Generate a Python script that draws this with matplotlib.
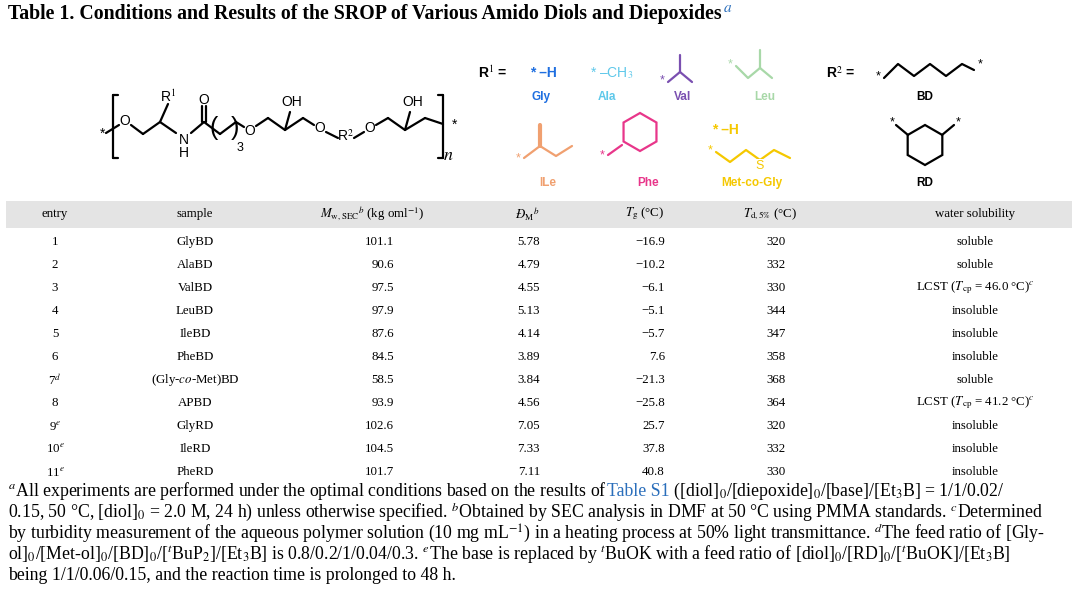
import matplotlib
matplotlib.use("Agg")
import matplotlib.pyplot as plt
from matplotlib.patches import Rectangle, RegularPolygon
import numpy as np

entries = ["1","2","3","4","5","6","7$^{d}$","8","9$^{e}$","10$^{e}$","11$^{e}$"]
samples = ["GlyBD","AlaBD","ValBD","LeuBD","IleBD","PheBD","(Gly-$co$-Met)BD","APBD","GlyRD","IleRD","PheRD"]
mw = [101.1,90.6,97.5,97.9,87.6,84.5,58.5,93.9,102.6,104.5,101.7]
dm = [5.78,4.79,4.55,5.13,4.14,3.89,3.84,4.56,7.05,7.33,7.11]
tg = [-16.9,-10.2,-6.1,-5.1,-5.7,7.6,-21.3,-25.8,25.7,37.8,40.8]
td = [320,332,330,344,347,358,368,364,320,332,330]
sol = ["soluble","soluble","LCST ($T_{\\rm cp}$ = 46.0 °C)$^{c}$","insoluble","insoluble","insoluble",
       "soluble","LCST ($T_{\\rm cp}$ = 41.2 °C)$^{c}$","insoluble","insoluble","insoluble"]

plt.rcParams['mathtext.fontset'] = 'stix'
SERIF = ['Liberation Serif', 'DejaVu Serif']
SANS = ['Liberation Sans', 'DejaVu Sans']
fig = plt.figure(figsize=(10.8, 5.98), dpi=100)
ax = fig.add_axes([0, 0, 1, 1])
ax.set_xlim(0, 1080); ax.set_ylim(598, 0); ax.axis('off')
FN = 9.3
BLUE = '#2a6ebb'

def T(x, y, s, **kw):
    kw.setdefault('family', SERIF); kw.setdefault('fontsize', FN)
    kw.setdefault('va', 'center')
    return ax.text(x, y, s, **kw)

fig.canvas.draw()
r = fig.canvas.get_renderer()
tt = ax.text(8, 14, "Table 1. Conditions and Results of the SROP of Various Amido Diols and Diepoxides", family=SERIF,
        fontsize=14.3, weight='bold', va='center')
tx = 8 + tt.get_window_extent(r).width
ax.text(tx + 1, 9, "$a$", family=SERIF, fontsize=11, color=BLUE, va='center')

# ---- polymer structure ----
def L(xs, ys, c='k', lw=1.6):
    ax.plot(xs, ys, color=c, lw=lw, solid_capstyle='round')
L([113,113],[95,158]); L([113,118],[95,95]); L([113,118],[158,158])
L([443,443],[95,158]); L([438,443],[95,95]); L([438,443],[158,158])
T(100,134,"*",family=SANS,fontsize=10)
T(125,121,"O",family=SANS,fontsize=10,ha='center')
L([106,119],[133,125]); L([131,143],[125,134]); L([143,160],[134,122])
L([160,168],[122,104]); T(168,97,"R$^1$",family=SANS,fontsize=10,ha='center')
L([160,176],[122,133]); T(184,140,"N",family=SANS,fontsize=10,ha='center'); T(184,153,"H",family=SANS,fontsize=10,ha='center')
L([191,204],[133,122]); L([202,202],[122,106]); L([206,206],[122,106]); T(204,100,"O",family=SANS,fontsize=10,ha='center')
L([204,220],[122,134]); T(214,128,"(",family=SANS,fontsize=18,ha='center'); T(235,128,")",family=SANS,fontsize=18,ha='center')
L([220,236],[134,122]); T(240,148,"3",family=SANS,fontsize=9,ha='center')
L([236,244],[122,127]); T(250,131,"O",family=SANS,fontsize=10,ha='center')
L([256,268],[126,118]); L([268,285],[118,130]); L([285,290],[130,112]); T(292,102,"OH",family=SANS,fontsize=10,ha='center')
L([285,303],[130,118]); L([303,314],[118,125]); T(320,128,"O",family=SANS,fontsize=10,ha='center')
L([326,338],[132,138]); T(345,136,"R$^2$",family=SANS,fontsize=10,ha='center'); L([354,364],[138,132])
T(370,128,"O",family=SANS,fontsize=10,ha='center'); L([376,388],[125,118]); L([388,405],[118,130])
L([405,410],[130,112]); T(413,102,"OH",family=SANS,fontsize=10,ha='center'); L([405,425],[130,118]); L([425,443],[118,124])
T(455,125,"*",family=SANS,fontsize=10,ha='center'); T(448,156,"$n$",fontsize=13,ha='center')

# ---- R1 ----
CG, CA, CV, CL, CI, CP, CM = '#1f6fe0', '#5ec8ea', '#7a4fb0', '#a8d8a8', '#f0a070', '#e8368a', '#f5c800'
def lab(x, y, s, c, **kw): T(x, y, s, family=SANS, fontsize=8.5, weight='bold', color=c, ha='center', **kw)
T(478,73,"R$^1$ =",family=SANS,fontsize=10,weight='bold')
T(530,73,"* –H",family=SANS,fontsize=10,color=CG,weight='bold'); lab(541,97,"Gly",CG)
T(590,73,"* –CH$_3$",family=SANS,fontsize=10,color=CA); lab(607,97,"Ala",CA)
T(660,80,"*",family=SANS,fontsize=9,color=CV); L([668,680,692],[82,72,82],CV); L([680,680],[72,55],CV); lab(683,97,"Val",CV)
T(728,64,"*",family=SANS,fontsize=9,color=CL); L([736,748,760,772],[66,78,68,78],CL); L([760,760],[68,50],CL); lab(765,97,"Leu",CL)
T(826,73,"R$^2$ =",family=SANS,fontsize=10,weight='bold')
T(876,76,"*",family=SANS,fontsize=9); L([884,898,914,930,946,962,974],[78,64,76,64,76,64,70]); T(978,64,"*",family=SANS,fontsize=9)
lab(925,97,"BD",'k')
T(516,158,"*",family=SANS,fontsize=9,color=CI); L([524,540,556,572],[158,146,156,146],CI); L([540,540],[146,125],CI,lw=3); lab(548,183,"ILe",CI)
T(600,155,"*",family=SANS,fontsize=9,color=CP); L([608,622],[155,145],CP)
ax.add_patch(RegularPolygon((640,132),6,radius=19,orientation=0,fill=False,ec=CP,lw=1.6)); lab(648,183,"Phe",CP)
T(712,130,"* –H",family=SANS,fontsize=10,color=CM,weight='bold')
T(708,150,"*",family=SANS,fontsize=9,color=CM); L([716,730,746,760,774,790],[152,162,150,160,150,158],CM)
T(760,166,"S",family=SANS,fontsize=9,color=CM,ha='center',bbox=dict(fc='w',ec='none',pad=0.5))
lab(752,183,"Met-co-Gly",CM)
ax.add_patch(RegularPolygon((925,145),6,radius=20,orientation=0,fill=False,ec='k',lw=1.6))
L([908,896],[135,125]); L([942,954],[135,125]); T(890,122,"*",family=SANS,fontsize=9); T(956,122,"*",family=SANS,fontsize=9)
lab(925,183,"RD",'k')

# ---- table ----
ax.add_patch(Rectangle((6,201),1066,27,fc='#e4e4e4',ec='none'))
hy = 214
T(55,hy,"entry",ha='center'); T(195,hy,"sample",ha='center')
T(372,hy,"$M_{\\rm w,SEC}$$^{b}$ (kg oml$^{-1}$)",ha='center')
T(527,hy,"$Đ_{\\rm M}$$^{b}$",ha='center'); T(645,hy,"$T_{\\rm g}$ (°C)",ha='center')
T(770,hy,"$T_{\\rm d,5\\%}$ (°C)",ha='center'); T(975,hy,"water solubility",ha='center')
for i in range(len(samples)):
    y = 242 + i*23
    T(55,y,entries[i],ha='center'); T(195,y,samples[i],ha='center')
    T(394,y,f"{mw[i]:.1f}",ha='right'); T(540,y,f"{dm[i]:.2f}",ha='right')
    T(665,y,f"{tg[i]:.1f}".replace('-','−'),ha='right'); T(776,y,str(td[i]),ha='center')
    T(975,y,sol[i],ha='center')

# ---- footnotes ----
def seq(x, y, parts):
    for s, c in parts:
        t = T(x, y, s, color=c, fontsize=12.8)
        bb = t.get_window_extent(r)
        x += bb.width
K = 'k'
seq(8,491,[("$^{a}$All experiments are performed under the optimal conditions based on the results of ",K),("Table S1",BLUE),
   (" ([diol]$_0$/[diepoxide]$_0$/[base]/[Et$_3$B] = 1/1/0.02/",K)])
seq(8,512,[("0.15, 50 °C, [diol]$_0$ = 2.0 M, 24 h) unless otherwise specified. $^{b}$Obtained by SEC analysis in DMF at 50 °C using PMMA standards. $^{c}$Determined",K)])
seq(8,533,[("by turbidity measurement of the aqueous polymer solution (10 mg mL$^{-1}$) in a heating process at 50% light transmittance. $^{d}$The feed ratio of [Gly-",K)])
seq(8,554,[("ol]$_0$/[Met-ol]$_0$/[BD]$_0$/[$^t$BuP$_2$]/[Et$_3$B] is 0.8/0.2/1/0.04/0.3. $^{e}$The base is replaced by $^t$BuOK with a feed ratio of [diol]$_0$/[RD]$_0$/[$^t$BuOK]/[Et$_3$B]",K)])
seq(8,575,[("being 1/1/0.06/0.15, and the reaction time is prolonged to 48 h.",K)])

fig.savefig("out.png", dpi=100)
